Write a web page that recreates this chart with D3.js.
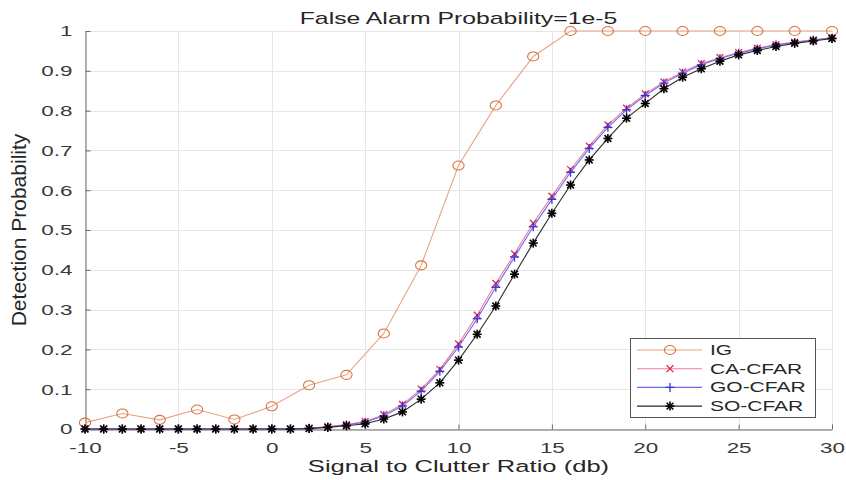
<!DOCTYPE html>
<html>
<head>
<meta charset="utf-8">
<script src="https://cdn.jsdelivr.net/npm/d3@7"></script>
<style>
  body { margin: 0; background: #fff; }
  svg { display: block; font-family: "Liberation Sans", Arial, sans-serif; }
</style>
</head>
<body>
<div id="chart"></div>
<script>
// x positions (SNR in db)
const snrIG = [-10, -8, -6, -4, -2, 0, 2, 4, 6, 8, 10, 12, 14, 16, 18, 20, 22, 24, 26, 28, 30];
const snrCFAR = [-10, -9, -8, -7, -6, -5, -4, -3, -2, -1, 0, 1, 2, 3, 4, 5, 6, 7, 8, 9, 10,
                 11, 12, 13, 14, 15, 16, 17, 18, 19, 20, 21, 22, 23, 24, 25, 26, 27, 28, 29, 30];

// detection probabilities
const pdIG = [0.016, 0.039, 0.023, 0.049, 0.024, 0.057, 0.11, 0.136, 0.24, 0.411, 0.662,
              0.813, 0.936, 1, 1, 1, 1, 1, 1, 1, 1];
const pdCA = [0, 0, 0, 0, 0, 0, 0, 0, 0, 0, 0, 0, 0.002, 0.006, 0.011, 0.019, 0.036, 0.062,
              0.100, 0.150, 0.214, 0.286, 0.366, 0.440, 0.517, 0.585, 0.652, 0.711, 0.764,
              0.806, 0.842, 0.872, 0.897, 0.918, 0.933, 0.946, 0.957, 0.966, 0.972, 0.978, 0.983];
const pdGO = [0, 0, 0, 0, 0, 0, 0, 0, 0, 0, 0, 0, 0.002, 0.005, 0.010, 0.017, 0.033, 0.058,
              0.095, 0.145, 0.206, 0.277, 0.356, 0.432, 0.508, 0.577, 0.645, 0.705, 0.758,
              0.802, 0.838, 0.869, 0.894, 0.915, 0.931, 0.944, 0.955, 0.965, 0.971, 0.977, 0.982];
const pdSO = [0, 0, 0, 0, 0, 0, 0, 0, 0, 0, 0, 0, 0.001, 0.004, 0.008, 0.013, 0.025, 0.043,
              0.075, 0.116, 0.173, 0.238, 0.309, 0.389, 0.467, 0.542, 0.613, 0.676, 0.730,
              0.781, 0.818, 0.855, 0.884, 0.905, 0.924, 0.940, 0.951, 0.961, 0.969, 0.975, 0.981];

const seriesNames = ["IG", "CA-CFAR", "GO-CFAR", "SO-CFAR"];
const xTicks = [-10, -5, 0, 5, 10, 15, 20, 25, 30];
const yTicks = [0, 0.1, 0.2, 0.3, 0.4, 0.5, 0.6, 0.7, 0.8, 0.9, 1];

(function(){
  const W = 846, H = 480;
  const plot = { left: 85, right: 832, top: 31, bottom: 429 };
  const SX = 1.45; // the figure is stretched sideways, so is its text

  const svg = d3.select("#chart").append("svg")
      .attr("width", W).attr("height", H);

  const x = d3.scaleLinear().domain([-10, 30]).range([plot.left, plot.right]);
  const y = d3.scaleLinear().domain([0, 1]).range([plot.bottom, plot.top]);

  // grid
  const grid = svg.append("g").attr("stroke", "#e6e6e6").attr("stroke-width", 1);
  grid.selectAll(".vg").data(xTicks).enter().append("line")
      .attr("x1", d => Math.round(x(d)) + 0.5).attr("x2", d => Math.round(x(d)) + 0.5)
      .attr("y1", plot.top).attr("y2", plot.bottom);
  grid.selectAll(".hg").data(yTicks).enter().append("line")
      .attr("y1", d => Math.round(y(d)) + 0.5).attr("y2", d => Math.round(y(d)) + 0.5)
      .attr("x1", plot.left).attr("x2", plot.right);

  // axes (plain hyphen for negatives, like the original)
  const gx = svg.append("g")
      .attr("transform", `translate(0,${plot.bottom + 0.5})`)
      .call(d3.axisBottom(x).tickValues(xTicks).tickSizeInner(-5).tickSizeOuter(0).tickPadding(13)
            .tickFormat(d => String(d)));
  const gy = svg.append("g")
      .attr("transform", `translate(${plot.left + 0.5},0)`)
      .call(d3.axisLeft(y).tickValues(yTicks).tickSizeInner(-5).tickSizeOuter(0)
            .tickFormat(d => d === 0 || d === 1 ? d3.format("d")(d) : d3.format(".1f")(d)));

  [gx, gy].forEach(g => {
    g.select(".domain").attr("stroke", "#6a6a6a");
    g.selectAll(".tick line").attr("stroke", "#6a6a6a");
    g.selectAll(".tick text").attr("fill", "#3a3a3a").style("font-size", "15.5px");
  });
  gx.selectAll(".tick text").attr("transform", `scale(${SX},1)`);
  gy.selectAll(".tick text").attr("x", null).attr("transform", `translate(-13,0) scale(${SX},1)`);

  // title and labels
  svg.append("text")
      .attr("transform", `translate(${(plot.left + plot.right) / 2},24) scale(1.55,1)`)
      .attr("text-anchor", "middle").style("font-size", "16px").attr("fill", "#262626")
      .text("False Alarm Probability=1e-5");
  svg.append("text")
      .attr("transform", `translate(${(plot.left + plot.right) / 2},472) scale(1.55,1)`)
      .attr("text-anchor", "middle").style("font-size", "16.5px").attr("fill", "#262626")
      .text("Signal to Clutter Ratio (db)");
  svg.append("text")
      .attr("transform", `translate(26,${(plot.top + plot.bottom) / 2}) rotate(-90)`)
      .attr("text-anchor", "middle").style("font-size", "21px").attr("fill", "#262626")
      .text("Detection Probability");

  // series
  const series = [
    { name: seriesNames[0], xs: snrIG, ys: pdIG, line: "#eba283", mark: "#d9743f", shape: "circle" },
    { name: seriesNames[1], xs: snrCFAR, ys: pdCA, line: "#f07c9a", mark: "#e0294f", shape: "x" },
    { name: seriesNames[2], xs: snrCFAR, ys: pdGO, line: "#6c6cf0", mark: "#3a32d0", shape: "plus" },
    { name: seriesNames[3], xs: snrCFAR, ys: pdSO, line: "#2a2a2a", mark: "#000", shape: "star" }
  ];

  const line = d3.line().x(d => x(d[0])).y(d => y(d[1]));

  function marker(g, shape, color) {
    if (shape === "circle") {
      g.append("ellipse").attr("rx", 5.6).attr("ry", 4.5)
        .attr("fill", "none").attr("stroke", color).attr("stroke-width", 1.1);
      return;
    }
    const s = 4;
    let segs = [];
    if (shape === "x" || shape === "star") segs.push([-s * 0.85, -s * 0.85, s * 0.85, s * 0.85], [-s * 0.85, s * 0.85, s * 0.85, -s * 0.85]);
    if (shape === "plus" || shape === "star") segs.push([0, -s - 0.5, 0, s + 0.5], [-s - 0.5, 0, s + 0.5, 0]);
    segs.forEach(p => g.append("line")
      .attr("x1", p[0]).attr("y1", p[1]).attr("x2", p[2]).attr("y2", p[3])
      .attr("stroke", color).attr("stroke-width", shape === "star" ? 1.6 : 1.3));
  }

  series.forEach(s => {
    const pts = s.xs.map((v, i) => [v, s.ys[i]]);
    svg.append("path").datum(pts)
        .attr("fill", "none").attr("stroke", s.line).attr("stroke-width", 1.1)
        .attr("d", line);
    svg.append("g").selectAll("g").data(pts).enter().append("g")
        .attr("transform", d => `translate(${x(d[0])},${y(d[1])})`)
        .each(function() { marker(d3.select(this), s.shape, s.mark); });
  });

  // legend
  const lg = svg.append("g");
  lg.append("rect").attr("x", 630.5).attr("y", 338.5).attr("width", 185).attr("height", 79)
      .attr("fill", "#fff").attr("stroke", "#555").attr("stroke-width", 1);
  series.forEach((s, i) => {
    const cy = 350 + i * 18.7;
    lg.append("line").attr("x1", 637).attr("x2", 702).attr("y1", cy).attr("y2", cy)
        .attr("stroke", s.line).attr("stroke-width", 1.1);
    marker(lg.append("g").attr("transform", `translate(670,${cy})`), s.shape, s.mark);
    lg.append("text")
        .attr("transform", `translate(710,${cy + 5}) scale(1.5,1)`)
        .style("font-size", "14px").attr("fill", "#262626")
        .text(s.name);
  });
})();
</script>
</body>
</html>
